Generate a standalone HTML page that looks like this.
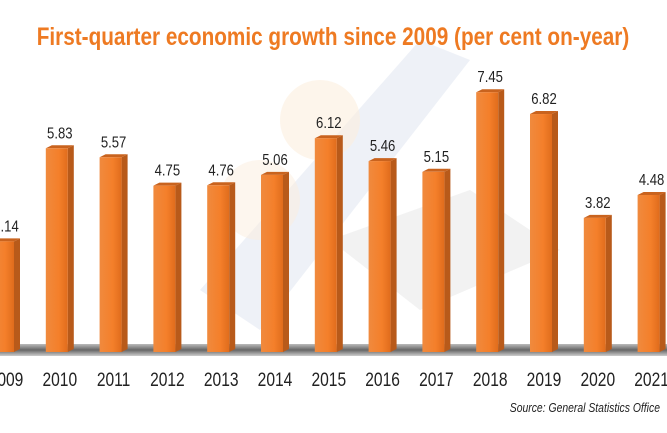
<!DOCTYPE html>
<html><head><style>
body{margin:0;width:667px;height:428px;overflow:hidden;background:#fff;font-family:"Liberation Sans",sans-serif;}
</style></head><body>
<svg width="667" height="428" xmlns="http://www.w3.org/2000/svg">
<defs>
<linearGradient id="f" x1="0" x2="1"><stop offset="0" stop-color="#f08a3e"/><stop offset="0.6" stop-color="#f47f2a"/><stop offset="1" stop-color="#e06c1c"/></linearGradient>
<linearGradient id="g" x1="0" y1="0" x2="0" y2="1"><stop offset="0" stop-color="#bbb"/><stop offset="0.5" stop-color="#666"/><stop offset="1" stop-color="#ccc"/></linearGradient>
</defs>
<polygon points="200,290 420,40 470,60 260,330" fill="#dde3ef" opacity="0.5"/>
<circle cx="320" cy="120" r="40" fill="#fbeede" opacity="0.6"/>
<circle cx="260" cy="200" r="40" fill="#fbeede" opacity="0.5"/>
<polygon points="330,240 470,190 560,250 420,310" fill="#e6e6e6" opacity="0.5"/>
<rect x="0" y="344" width="667" height="12" fill="url(#g)"/>
<text x="333" y="45" text-anchor="middle" font-size="25" font-weight="bold" fill="#ee7a22" transform="translate(333 0) scale(0.83 1) translate(-333 0)">First-quarter economic growth since 2009 (per cent on-year)</text>
<g id="bars"></g>
<text x="660" y="412" text-anchor="end" font-size="13" font-style="italic" fill="#222" transform="translate(660 0) scale(0.8 1) translate(-660 0)">Source: General Statistics Office</text>
</svg>
<script>
var v=[3.14,5.83,5.57,4.75,4.76,5.06,6.12,5.46,5.15,7.45,6.82,3.82,4.48];
var g=document.getElementById('bars'),s='';
for(var i=0;i<13;i++){var x=-8+i*53.8,t=350-v[i]*34.6,w=22;
s+='<polygon points="'+(x+w)+','+t+' '+(x+w+6)+','+(t-3)+' '+(x+w+6)+',349 '+(x+w)+',352" fill="#b85a1a"/>';
s+='<polygon points="'+x+','+t+' '+(x+6)+','+(t-3)+' '+(x+w+6)+','+(t-3)+' '+(x+w)+','+t+'" fill="#c9631e"/>';
s+='<rect x="'+x+'" y="'+t+'" width="'+w+'" height="'+(352-t)+'" fill="url(#f)"/>';
var cx=x+14;
s+='<text x="'+cx+'" y="'+(t-10)+'" text-anchor="middle" font-size="16" fill="#222" transform="translate('+cx+' 0) scale(0.82 1) translate('+(-cx)+' 0)">'+v[i].toFixed(2)+'</text>';
s+='<text x="'+cx+'" y="386" text-anchor="middle" font-size="19" fill="#222" transform="translate('+cx+' 0) scale(0.82 1) translate('+(-cx)+' 0)">'+(2009+i)+'</text>';}
g.innerHTML=s;
</script>
</body></html>
